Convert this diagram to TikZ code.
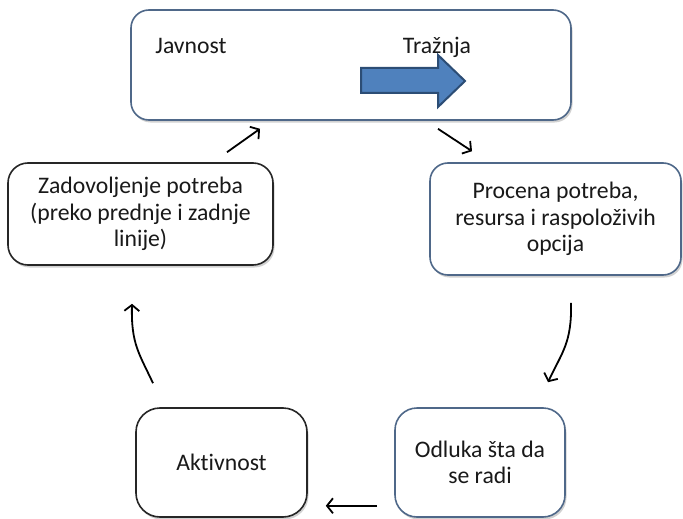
\documentclass[tikz,border=0pt]{standalone}
\usepackage{fontspec}
\setmainfont{Carlito}[Ligatures={NoCommon}]
\usepackage{xcolor}
\usetikzlibrary{arrows.meta,calc,shadows}
\definecolor{boxblue}{HTML}{4F6889}
\definecolor{arrowfill}{HTML}{4F81BD}
\definecolor{arrowline}{HTML}{2C4D75}
\begin{document}
\begin{tikzpicture}[x=1pt,y=-1pt,
  box/.style={draw=boxblue, line width=1.6pt, rounded corners=18pt, fill=white, align=center,
    inner sep=0pt, drop shadow={shadow xshift=1.5pt, shadow yshift=-2.5pt, opacity=0.18, fill=black}},
  darkbox/.style={box, draw=black!85},
  txt/.style={font=\fontsize{23.7}{26.5}\selectfont, text=black!90},
  flow/.style={line width=1.8pt, -{Straight Barb[length=6pt,width=15pt,line width=1.8pt]}}]
\useasboundingbox (0,0) rectangle (683,519);
\node[box, minimum width=440pt, minimum height=110pt] (top) at (351,65) {};
\node[txt, anchor=base] (javnost) at (191,54) {Javnost};
\node[txt, anchor=base] (traznja) at (437,54) {Tražnja};
\draw[fill=arrowfill, draw=arrowline, line width=2pt]
  (361,68) -- (438,68) -- (438,55) -- (465,81) -- (438,107) -- (438,93) -- (361,93) -- cycle;
\node[box, txt, minimum width=251pt, minimum height=112pt] (procena) at (555.5,219)
  {Procena potreba,\\resursa i raspoloživih\\opcija};
\node[box, txt, minimum width=170pt, minimum height=109pt, rounded corners=22pt] (odluka) at (480,462.5)
  {Odluka šta da\\se radi};
\node[darkbox, txt, minimum width=171pt, minimum height=109pt, rounded corners=24pt] (aktivnost) at (221.5,462.5)
  {Aktivnost};
\node[darkbox, txt, minimum width=265pt, minimum height=102pt, rounded corners=20pt] (zadovoljenje) at (140.5,214)
  {Zadovoljenje potreba\\(preko prednje i zadnje\\linije)};
\draw[flow] ($(top.south)+(87,8)$) -- ($(procena.north)+(-83.5,-11)$);
\draw[flow] ($(procena.south)+(15.5,27)$) .. controls +(1,40) and +(14,-30) .. ($(odluka.north)+(68,-25)$);
\draw[flow] ($(odluka.south west)+(-17,-12)$) -- ($(aktivnost.south east)+(18,-12)$);
\draw[flow] ($(aktivnost.north)+(-68.5,-24)$) .. controls +(-14,-30) and +(-1,40) .. ($(zadovoljenje.south)+(-8.5,38)$);
\draw[flow] ($(zadovoljenje.north)+(86.5,-10)$) -- ($(top.south)+(-91,8)$);
\end{tikzpicture}
\end{document}
